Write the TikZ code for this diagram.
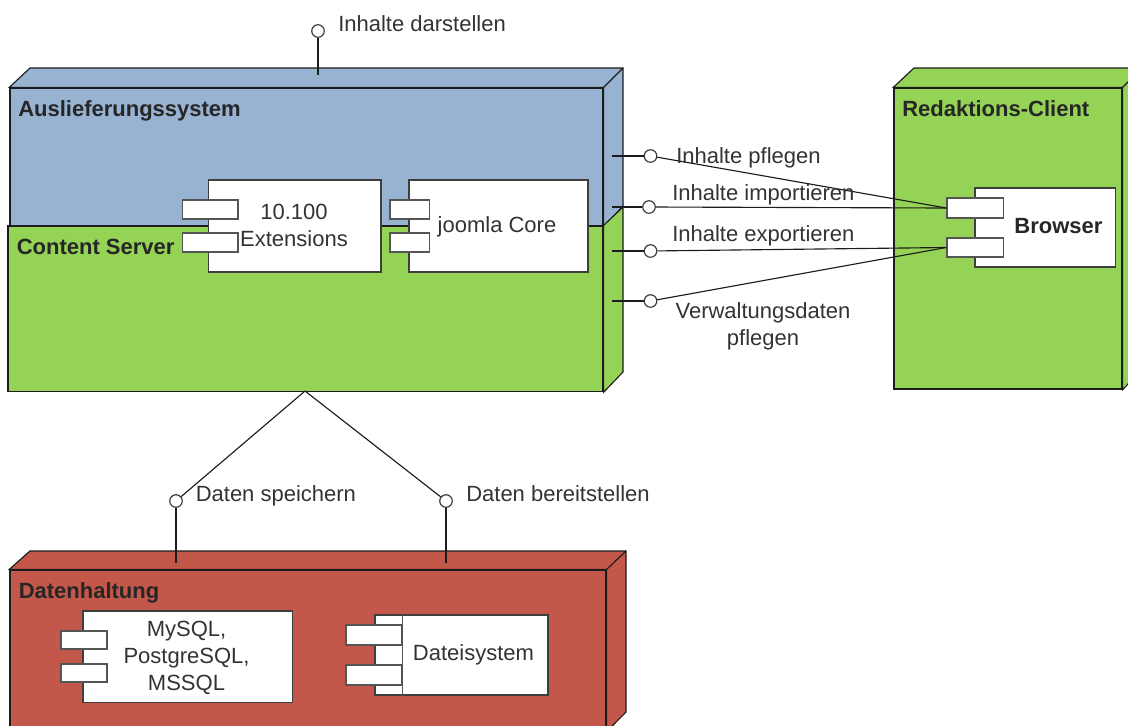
\documentclass[tikz,border=0pt]{standalone}
\usepackage{fontspec}
\setmainfont{Liberation Sans}
\usetikzlibrary{fit}
\definecolor{bluebox}{HTML}{98B2D2}
\definecolor{greenbox}{HTML}{95D356}
\definecolor{redbox}{HTML}{C3574A}
\definecolor{ink}{HTML}{1C1C1C}
\definecolor{txt}{HTML}{333333}
\tikzset{
  frontface/.style={draw=ink,line width=1pt,inner sep=0pt,fit={#1}},
  sideface/.style={draw=ink,line width=0.85pt,line join=miter},
  compbox/.style={draw=ink!85,fill=white,line width=0.95pt,inner sep=0pt,fit={#1}},
  portbox/.style={draw=ink!75,fill=white,line width=1.05pt,inner sep=0pt,fit={#1}},
  lolli/.style={circle,draw=ink!85,fill=white,line width=0.9pt,minimum size=9.4pt,inner sep=0pt},
  wire/.style={draw=ink,line width=0.85pt},
  lab/.style={inner sep=0pt,text=txt,font=\fontsize{16.5}{20.2}\selectfont},
  title/.style={inner sep=0pt,text=black!85,font=\fontsize{16.5}{20}\selectfont\bfseries},
}
\begin{document}
\begin{tikzpicture}[x=0.75pt,y=-0.75pt]
\useasboundingbox (0,0) rectangle (1128,725);
\clip (0,0) rectangle (1128,725);
% Auslieferungssystem
\node[frontface={(10,88) (603,226)},fill=bluebox] (aus) {};
\draw[sideface,fill=bluebox] (aus.north west) -- (30,68) -- (623,68) -- (623,206) -- (aus.south east) -- (aus.north east) -- cycle;
\draw[sideface] (aus.north east) -- (623,68);
% Content Server
\node[frontface={(8,226) (603,391.5)},fill=greenbox] (cs) {};
\draw[sideface,fill=greenbox] (cs.north east) -- (623,207) -- (623,372) -- (cs.south east) -- cycle;
% Redaktions-Client
\node[frontface={(894,88) (1122,389)},fill=greenbox] (rc) {};
\draw[sideface,fill=greenbox] (rc.north west) -- (914,68) -- (1142,68) -- (1142,369) -- (rc.south east) -- (rc.north east) -- cycle;
\draw[sideface] (rc.north east) -- (1142,68);
% Datenhaltung
\node[frontface={(10,570) (606,731)},fill=redbox] (dh) {};
\draw[sideface,fill=redbox] (dh.north west) -- (30,551) -- (626,551) -- (626,712) -- (dh.south east) -- (dh.north east) -- cycle;
\draw[sideface] (dh.north east) -- (626,551);
% Components
\node[compbox={(208.5,180) (381,272)}] (ext) {};
\node[portbox={(182.5,200) (238,219)}] (ext1) {};
\node[portbox={(182.5,233) (238,252)}] (ext2) {};
\node[compbox={(409,180) (588,272)}] (core) {};
\node[portbox={(390,200) (429.5,219)}] (core1) {};
\node[portbox={(390,233) (429.5,252)}] (core2) {};
\node[compbox={(975,188) (1115.5,267)}] (br) {};
\node[portbox={(947,198) (1003.5,218)}] (br1) {};
\node[portbox={(947,238) (1003.5,257)}] (br2) {};
\node[compbox={(83,611) (292.5,702.5)}] (db) {};
\node[portbox={(61,631) (107,649)}] (db1) {};
\node[portbox={(61,664) (107,682)}] (db2) {};
\node[compbox={(375,615) (548,695)}] (fs) {};
\node[portbox={(346,625) (402,645)}] (fs1) {};
\node[portbox={(346,665) (402,685)}] (fs2) {};
\draw[draw=ink!75,line width=1.05pt] (fs1.north east |- fs.north) -- (fs1.north east |- fs.south);
% Interfaces
\node[lolli] (top) at (318,31) {};
\node[lolli] (pf) at (650.5,156) {};
\node[lolli] (im) at (649,207) {};
\node[lolli] (ex) at (650.5,251) {};
\node[lolli] (vw) at (650.5,301) {};
\node[lolli] (sp) at (176,501) {};
\node[lolli] (be) at (446,501) {};
% Free ends
\coordinate (ctop) at (318,75);
\coordinate (cpf) at (611.5,156);
\coordinate (cim) at (611.5,207);
\coordinate (cex) at (611.5,251);
\coordinate (cvw) at (611.5,301);
\coordinate (apex) at (305,391);
\coordinate (csp) at (176,563);
\coordinate (cbe) at (446,563);
% Connectors
\draw[wire] (ctop) -- (top);
\draw[wire] (cpf) -- (pf);
\draw[wire] (cim) -- (im);
\draw[wire] (cex) -- (ex);
\draw[wire] (cvw) -- (vw);
\draw[wire] (pf) -- (br1.west);
\draw[wire] (im) -- (br1.west);
\draw[wire] (ex) -- (br2.west);
\draw[wire] (vw) -- (br2.west);
\draw[wire] (apex) -- (sp);
\draw[wire] (apex) -- (be);
\draw[wire] (csp) -- (sp);
\draw[wire] (cbe) -- (be);
% Labels
\node[title,anchor=base west] (taus) at (18,116) {Auslieferungssystem};
\node[title,anchor=base west] (tcs) at (16.5,254) {Content Server};
\node[title,anchor=base west] (trc) at (902,116) {Redaktions-Client};
\node[title,anchor=base west] (tdh) at (18.5,598) {Datenhaltung};
\node[title,anchor=base] (tbr) at (1058.5,233) {Browser};
\node[lab,align=center] (text) at (294,225) {10.100\\Extensions};
\node[lab,anchor=base] (tcore) at (497,232) {joomla Core};
\node[lab,align=center] (tdb) at (186.5,658) {MySQL,\\PostgreSQL,\\MSSQL};
\node[lab,anchor=base] (tfs) at (473.5,660.5) {Dateisystem};
\node[lab,anchor=base west] (ltop) at (338,31.5) {Inhalte darstellen};
\node[lab,anchor=base west] (lpf) at (676,163) {Inhalte pflegen};
\node[lab,anchor=base west] (lim) at (672,200.5) {Inhalte importieren};
\node[lab,anchor=base west] (lex) at (672,241) {Inhalte exportieren};
\node[lab,align=center] (lvw) at (763,326) {Verwaltungsdaten\\pflegen};
\node[lab,anchor=base west] (lsp) at (195.5,501.5) {Daten speichern};
\node[lab,anchor=base west] (lbe) at (466,501.5) {Daten bereitstellen};
\end{tikzpicture}
\end{document}
